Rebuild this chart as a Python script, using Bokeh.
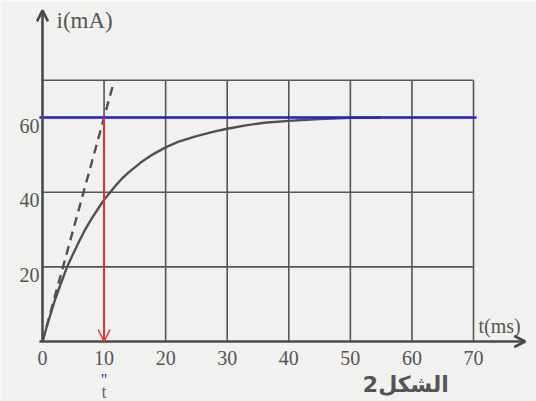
from bokeh.plotting import figure
from bokeh.models import Arrow, OpenHead, Range1d
from bokeh.core.properties import value
from bokeh.embed import file_html
from bokeh.resources import INLINE

# data
t_curve = [0, 1, 2, 3, 4, 5, 6, 7, 8, 9, 10, 11, 12, 13, 14, 16, 18, 20, 22, 25, 28, 30, 33, 36, 40, 45, 50, 55]
i_curve = [0, 5.7, 11, 15.6, 20, 23.6, 27, 30.2, 33, 35.5, 38, 40, 42, 43.8, 45.3, 48, 50.2, 52, 53.5, 55, 56.3, 57, 57.9, 58.6, 59.1, 59.6, 59.9, 60]
t_tangent = [0, 11.5]
i_tangent = [0, 69]
i_final = 60
tau = 10
x_ticks = [0, 10, 20, 30, 40, 50, 60, 70]
y_ticks = [20, 40, 60]
grid_x = [10, 20, 30, 40, 50, 60, 70]
grid_y = [20, 40, 60, 70]
t_max = 70
i_top = 70

p = figure(width=536, height=401, output_backend="svg", toolbar_location=None,
           x_range=Range1d(-6.82, 80.23), y_range=Range1d(-16.07, 91.35),
           min_border=0, background_fill_color="#f1f1f0", border_fill_color="#f6f6f5",
           outline_line_color=None)
p.axis.visible = False
p.grid.visible = False

serif = value("Liberation Serif")
grey = "#4a4a4a"

# grid
for gx in grid_x:
    p.line([gx, gx], [0, i_top], line_color="#555555", line_width=1.6)
for gy in grid_y:
    p.line([0, t_max], [gy, gy], line_color="#555555", line_width=1.6)

# axes with arrows
p.add_layout(Arrow(x_start=0, y_start=0, x_end=0, y_end=88.7, line_color=grey, line_width=2.6,
                   end=OpenHead(size=11, line_color=grey, line_width=2.6)))
p.add_layout(Arrow(x_start=-0.5, y_start=0, x_end=78.4, y_end=0, line_color=grey, line_width=2.6,
                   end=OpenHead(size=11, line_color=grey, line_width=2.6)))

# curve and tangent
p.line(t_curve, i_curve, line_color="#505050", line_width=2.4, line_join="round")
p.line(t_tangent, i_tangent, line_color="#505050", line_width=2.4, line_dash="9 6")

# asymptote (blue) and tau marker (red)
p.line([-0.5, t_max + 0.5], [i_final, i_final], line_color="#2424c8", line_width=2.4)
p.add_layout(Arrow(x_start=tau, y_start=i_final, x_end=tau, y_end=0, line_color="#e0352f", line_width=2,
                   end=OpenHead(size=12, line_color="#e0352f", line_width=1.5)))

# tick labels
p.text(x=x_ticks, y=[0]*len(x_ticks), text=[str(v) for v in x_ticks], text_font=serif,
       text_font_size="20px", text_color="#555555", text_align="center", text_baseline="top", y_offset=9)
p.text(x=[0]*len(y_ticks), y=y_ticks, text=[str(v) for v in y_ticks], text_font=serif,
       text_font_size="20px", text_color="#555555", text_align="right", text_baseline="middle",
       x_offset=-3, y_offset=8)

# axis titles
p.text(x=[0], y=[88.7], text=["i(mA)"], text_font=serif, text_font_size="23px", text_color="#555555",
       text_align="left", text_baseline="middle", x_offset=14, y_offset=10)
p.text(x=[t_max], y=[0], text=["t(ms)"], text_font=serif, text_font_size="20px", text_color="#555555",
       text_align="left", text_baseline="middle", x_offset=5, y_offset=-16)

# t'' marker under 10
p.text(x=[tau], y=[0], text=['"'], text_font=serif, text_font_size="16px", text_color="#2a2a90",
       text_align="center", text_baseline="middle", y_offset=38)
p.text(x=[tau], y=[0], text=["t"], text_font=serif, text_font_size="18px", text_color="#666666",
       text_align="center", text_baseline="middle", y_offset=50)

# figure caption
p.text(x=[59], y=[0], text=["الشكل2"], text_font=value("DejaVu Sans"), text_font_size="22px",
       text_color="#555555", text_font_style="bold", text_align="center", text_baseline="middle",
       y_offset=43)

open("out.html", "w").write(file_html(p, INLINE))
